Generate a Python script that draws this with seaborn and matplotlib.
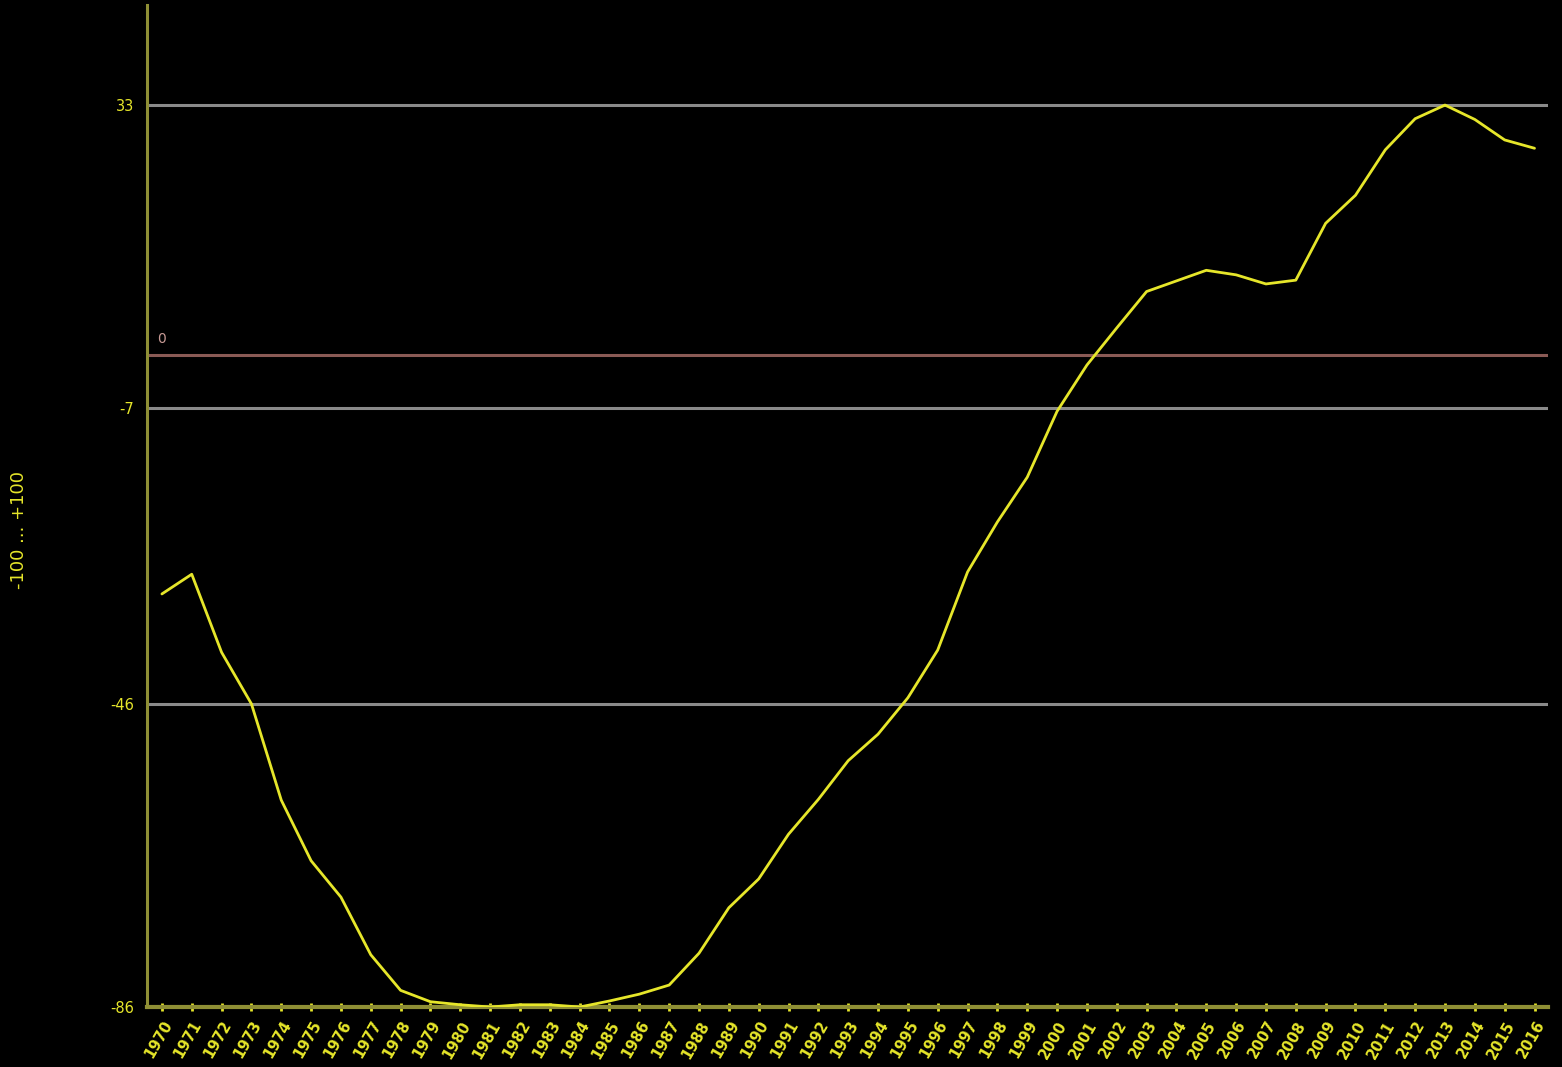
import numpy as np
import pandas as pd
import matplotlib
matplotlib.use('Agg')
import matplotlib.pyplot as plt
import seaborn as sns

# values
years = list(range(1970, 2017))
index_values = [
    -31.5, -28.9, -39.2, -46.0, -58.7, -66.7, -71.5, -79.1, -83.8, -85.3,
    -85.7, -86.0, -85.7, -85.7, -86.0, -85.2, -84.3, -83.1, -78.9, -72.9,
    -69.1, -63.2, -58.6, -53.5, -50.0, -45.2, -38.9, -28.6, -22.0, -16.1,
    -7.4, -1.3, 3.6, 8.4, 9.8, 11.2, 10.6, 9.4, 9.9, 17.4,
    21.1, 27.1, 31.2, 33.0, 31.1, 28.4, 27.3,
]
y_ticks = [33, -7, -46, -86]
y_label = '-100 ... +100'

df = pd.DataFrame({'year': years, 'value': index_values})

sns.set_theme(style='dark', rc={
    'figure.facecolor': 'black',
    'axes.facecolor': 'black',
    'savefig.facecolor': 'black',
})
plt.rcParams['font.family'] = ['DejaVu Sans']

yellow = '#e6e62a'
olive = '#8f8f35'

fig = plt.figure(figsize=(15.62, 10.67), dpi=100)
ax = fig.add_axes([0.0941, 0.0562, 0.8969, 0.9391])

# reference lines
for t in y_ticks[:-1]:
    ax.axhline(t, color='#8a8a8a', linewidth=2.2, zorder=1)
ax.axhline(0, color='#8a5a55', linewidth=2.2, zorder=1)
ax.text(1969.85, 1.2, '0', color='#c89a95', fontsize=10, va='bottom', ha='left')

sns.lineplot(data=df, x='year', y='value', color=yellow, linewidth=2, ax=ax, zorder=3)

ax.set_xlim(1969.5, 2016.45)
ax.set_ylim(-86, 46.2)

ax.set_xticks(years)
ax.set_xticklabels([str(y) for y in years], rotation=60, ha='right',
                   rotation_mode='anchor', fontsize=10.5, fontweight='bold', color=yellow)
ax.set_yticks(y_ticks)
ax.set_yticklabels([str(t) for t in y_ticks], fontsize=10.5, color=yellow)

ax.tick_params(axis='x', which='both', bottom=True, length=6, width=2,
               color=yellow, direction='inout', pad=5)
ax.tick_params(axis='y', which='both', left=False, pad=3)

ax.set_xlabel('')
ax.set_ylabel(y_label, color=yellow, fontsize=13)
ax.yaxis.set_label_coords(-0.085, 0.476)
ax.grid(False)

for side in ['top', 'right']:
    ax.spines[side].set_visible(False)
ax.spines['left'].set_color(olive)
ax.spines['left'].set_linewidth(2.2)
ax.spines['bottom'].set_color(olive)
ax.spines['bottom'].set_linewidth(3)

fig.savefig('out.png', dpi=100, facecolor='black')
